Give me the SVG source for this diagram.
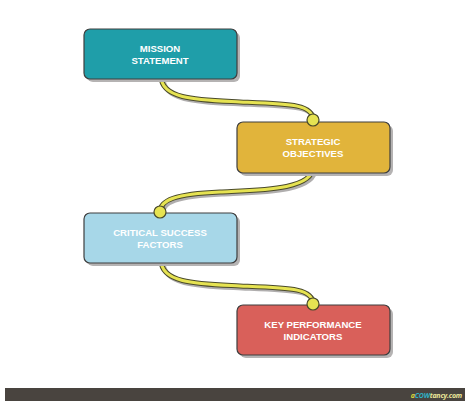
<svg xmlns="http://www.w3.org/2000/svg" width="474" height="407" viewBox="0 0 474 407">
<defs>
<style>
.shadow{fill:#b5b3b3;}
.box{stroke:#3e3e3e;stroke-width:1.2;}
.lbl{font-family:"Liberation Sans","Open Sans",sans-serif;font-weight:bold;font-size:9.6px;fill:#ffffff;text-anchor:middle;}
.wire-sh{fill:none;stroke:#b0aeae;stroke-width:5;stroke-linecap:round;}
.wire-out{fill:none;stroke:#4a4a2a;stroke-width:5;stroke-linecap:round;}
.wire{fill:none;stroke:#e6e352;stroke-width:3;stroke-linecap:round;}
.dot{fill:#e6e352;stroke:#4a4a2a;stroke-width:1.2;}
</style>
</defs>
<rect width="474" height="407" fill="#ffffff"/>
<g id="connectors">
<g transform="translate(2,2)">
<path class="wire-sh" d="M161,76 C161,100 200,100 240,102 C290,104 313,104 313,120"/>
<path class="wire-sh" d="M313,167 C313,190 260,190 220,192 C175,194 160,200 160,212"/>
<path class="wire-sh" d="M161,260 C161,284 200,284 240,286 C290,288 313,288 313,304"/>
</g>
<path class="wire-out" d="M161,76 C161,100 200,100 240,102 C290,104 313,104 313,120"/>
<path class="wire" d="M161,76 C161,100 200,100 240,102 C290,104 313,104 313,120"/>
<path class="wire-out" d="M313,167 C313,190 260,190 220,192 C175,194 160,200 160,212"/>
<path class="wire" d="M313,167 C313,190 260,190 220,192 C175,194 160,200 160,212"/>
<path class="wire-out" d="M161,260 C161,284 200,284 240,286 C290,288 313,288 313,304"/>
<path class="wire" d="M161,260 C161,284 200,284 240,286 C290,288 313,288 313,304"/>
</g>
<g id="mission">
<rect class="shadow" x="87" y="32" width="153" height="50" rx="6"/>
<rect class="box" x="84" y="29" width="153" height="50" rx="6" fill="#1f9ea9"/>
<text class="lbl" x="160" y="52">MISSION</text>
<text class="lbl" x="160" y="64">STATEMENT</text>
</g>
<g id="strategic">
<rect class="shadow" x="240" y="125" width="153" height="51" rx="6"/>
<rect class="box" x="237" y="122" width="153" height="51" rx="6" fill="#e1b43b"/>
<text class="lbl" x="313" y="145">STRATEGIC</text>
<text class="lbl" x="313" y="157">OBJECTIVES</text>
<circle class="dot" cx="313" cy="120" r="6"/>
</g>
<g id="csf">
<rect class="shadow" x="87" y="216" width="153" height="50" rx="6"/>
<rect class="box" x="84" y="213" width="153" height="50" rx="6" fill="#a7d7e8"/>
<text class="lbl" x="160" y="236">CRITICAL SUCCESS</text>
<text class="lbl" x="160" y="248">FACTORS</text>
<circle class="dot" cx="160" cy="212" r="6"/>
</g>
<g id="kpi">
<rect class="shadow" x="240" y="308" width="153" height="50" rx="6"/>
<rect class="box" x="237" y="305" width="153" height="50" rx="6" fill="#d9605a"/>
<text class="lbl" x="313" y="328">KEY PERFORMANCE</text>
<text class="lbl" x="313" y="340">INDICATORS</text>
<circle class="dot" cx="313" cy="304" r="6"/>
</g>
<g id="footer">
<rect x="5" y="388" width="460" height="13" fill="#49443f"/>
<text x="462" y="397.5" font-family="'Open Sans','Liberation Sans',sans-serif" font-size="7" font-weight="bold" font-style="italic" text-anchor="end" letter-spacing="-0.2"><tspan fill="#d9d83a">a</tspan><tspan fill="#2eb0c4">COW</tspan><tspan fill="#ece79a">tancy.com</tspan></text>
</g>
</svg>
